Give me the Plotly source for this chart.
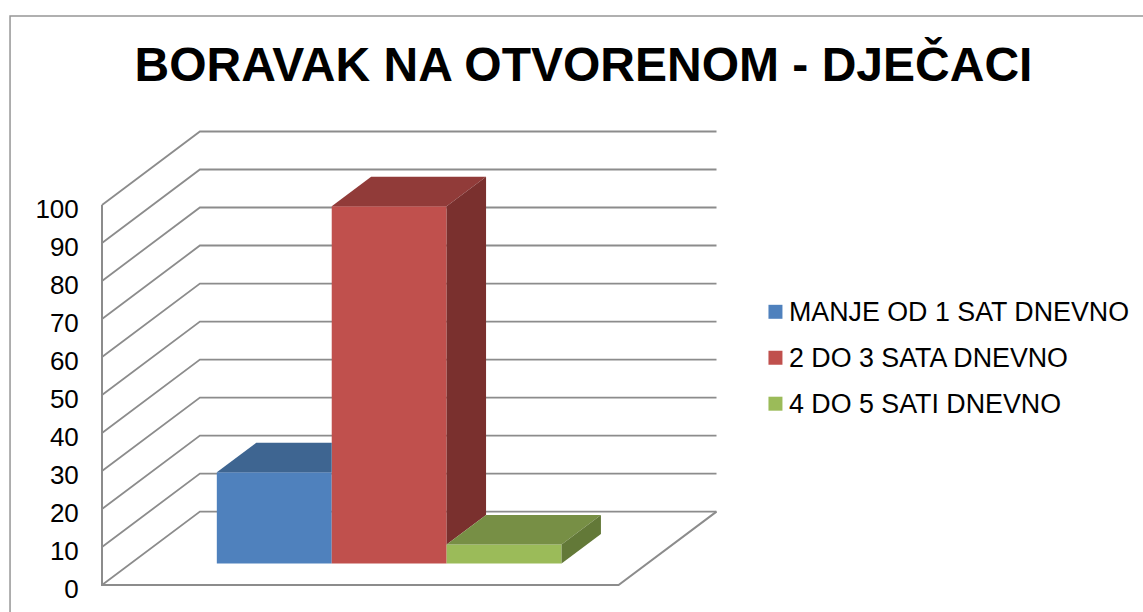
"""Excel-style 3D column chart, drawn on flat axes with a small oblique projection."""

import plotly.graph_objects as go

TITLE = "BORAVAK NA OTVORENOM - DJEČACI"
SERIES = ["MANJE OD 1 SAT DNEVNO", "2 DO 3 SATA DNEVNO", "4 DO 5 SATI DNEVNO"]
VALUES = [24, 94, 5]
TICKS = [0, 10, 20, 30, 40, 50, 60, 70, 80, 90, 100]

FRONT = ["#4F81BD", "#C0504D", "#9BBB59"]
TOP = ["#3E6591", "#913B39", "#778F45"]
SIDE = ["#335279", "#7A302E", "#637938"]
GRID = "#8C8C8C"

W, H = 1143, 612
# pixel position of the axis origin and the far corner of the back wall
ORIGIN_X, ORIGIN_Y = 102, 585.5
FAR_X, FAR_Y = 717.5, 131
PAD = 6  # room so shapes on the plot edge are not clipped

PLOT_L, PLOT_R = ORIGIN_X - PAD, FAR_X + PAD
PLOT_T, PLOT_B = FAR_Y - PAD, ORIGIN_Y + PAD

# axis units: x = one column width, y = data value
PX_X = 115.0
PX_Y = 3.805

# oblique projection of the chart's depth
DEPTH_X = 98 / PX_X
DEPTH_Y = 73.5 / PX_Y
FLOOR_W = 517 / PX_X
BAR_D0, BAR_D1 = 0.2925, 0.695
FIRST_BAR = 0.75


def proj(x, y, d):
    return x + d * DEPTH_X, y + d * DEPTH_Y


def path(points):
    return "M" + " L".join(f"{x:.4f},{y:.4f}" for x, y in points)


def paper_x(px):
    return (px - PLOT_L) / (PLOT_R - PLOT_L)


def paper_y(px):
    return (PLOT_B - px) / (PLOT_B - PLOT_T)


def face(points, color):
    xs, ys = zip(*(points + points[:1]))
    return go.Scatter(
        x=xs, y=ys, mode="lines", fill="toself", fillcolor=color,
        line=dict(width=0, color=color), hoverinfo="skip", showlegend=False,
    )


fig = go.Figure()

# frame of the chart area, runs off the page at right and bottom
fig.add_shape(
    type="path", xref="paper", yref="paper", layer="below",
    path=path([(paper_x(10), paper_y(H + 5)), (paper_x(10), paper_y(16)), (paper_x(W + 5), paper_y(16))]),
    line=dict(color="#969696", width=1.5),
)

# walls and floor sit below the traces
for v in TICKS:
    line = [proj(0, v, 0), proj(0, v, 1), proj(FLOOR_W, v, 1)]
    fig.add_shape(type="path", xref="x", yref="y", layer="below", path=path(line),
                  line=dict(color=GRID, width=1.8))
fig.add_shape(
    type="path", xref="x", yref="y", layer="below",
    path=path([proj(0, TICKS[-1], 0), proj(0, 0, 0), proj(FLOOR_W, 0, 0), proj(FLOOR_W, 0, 1)]),
    line=dict(color=GRID, width=2),
)

for i, (name, val) in enumerate(zip(SERIES, VALUES)):
    left = FIRST_BAR + i
    base = proj(left, 0, BAR_D0)
    fig.add_bar(
        x=[base[0] + 0.5], y=[val], base=[base[1]], width=1, name=name,
        marker=dict(color=FRONT[i], line=dict(width=0)), hoverinfo="skip",
    )

for i, val in enumerate(VALUES):
    left = FIRST_BAR + i
    right = left + 1
    nxt = VALUES[i + 1] if i + 1 < len(VALUES) else 0
    # bars are painted under scatters, so cut what the next column hides
    a = proj(left, val, BAR_D0)
    b = proj(left, val, BAR_D1)
    c = proj(right, val, BAR_D1)
    d = proj(right, val, BAR_D0)
    if nxt > val:
        fig.add_trace(face([a, b, (d[0], b[1]), d], TOP[i]))
    else:
        fig.add_trace(face([a, b, c, d], TOP[i]))
    if nxt < val:
        fig.add_trace(face([
            proj(right, val, BAR_D0), proj(right, val, BAR_D1),
            proj(right, nxt, BAR_D1), proj(right, nxt, BAR_D0),
        ], SIDE[i]))

# the original legend keeps its key close to the text, tighter than plotly's own
for i, name in enumerate(SERIES):
    cy = 312 + i * 46
    fig.add_shape(
        type="rect", xref="paper", yref="paper",
        x0=paper_x(769), x1=paper_x(783), y0=paper_y(cy + 7), y1=paper_y(cy - 7),
        fillcolor=FRONT[i], line=dict(width=0),
    )
    fig.add_annotation(
        xref="paper", yref="paper", x=paper_x(787.5), y=paper_y(cy), text=name,
        showarrow=False, xanchor="left", yanchor="middle",
        font=dict(size=26.8, color="#000000"),
    )

fig.update_layout(
    width=W, height=H, autosize=False,
    margin=dict(l=PLOT_L, r=W - PLOT_R, t=PLOT_T, b=H - PLOT_B, pad=0, autoexpand=False),
    paper_bgcolor="white", plot_bgcolor="rgba(0,0,0,0)",
    barmode="overlay",
    font=dict(family="Liberation Sans", color="#000000"),
    title=dict(text=f"<b>{TITLE}</b>", x=583.5 / W, xanchor="center",
               y=1 - 64 / H, yanchor="middle", font=dict(size=48, color="#000000")),
    showlegend=False,
)
fig.update_xaxes(range=[-PAD / PX_X, (PLOT_R - ORIGIN_X) / PX_X], visible=False, fixedrange=True)
fig.update_yaxes(
    range=[-PAD / PX_Y, (ORIGIN_Y - PLOT_T) / PX_Y],
    tickmode="array", tickvals=TICKS, ticktext=[str(t) for t in TICKS],
    showgrid=False, zeroline=False, showline=False, ticks="outside", ticklen=11,
    tickcolor="rgba(0,0,0,0)", tickfont=dict(size=26, color="#000000"),
    ticklabelshift=4, automargin=False, fixedrange=True,
)

fig.write_html("out.html", config=dict(displayModeBar=False),
               post_script="document.body.style.margin='0';")
